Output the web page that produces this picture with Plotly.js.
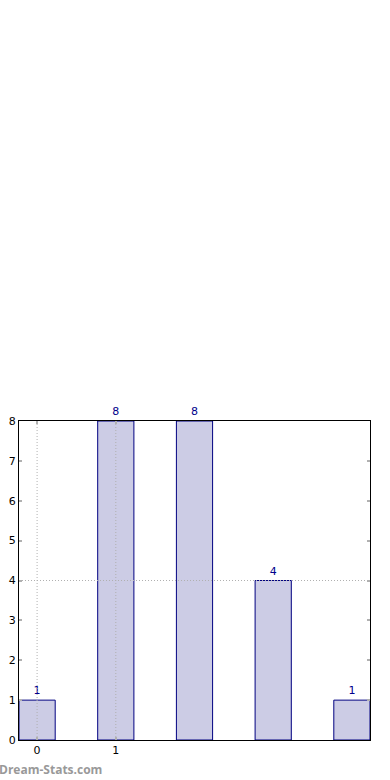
<!DOCTYPE html>
<html>
<head>
<meta charset="utf-8">
<script src="https://cdn.plot.ly/plotly-3.0.1.min.js"></script>
<style>
html,body{margin:0;padding:0;background:#fff;}
#chart{width:390px;height:780px;}
</style>
</head>
<body>
<div id="chart"></div>
<script>
var categories = [0, 1, 2, 3, 4];
var counts = [1, 8, 8, 4, 1];
var xTickVals = [0, 1];
var xTickText = ['0', '1'];
var yTickVals = [0, 1, 2, 3, 4, 5, 6, 7, 8];
var xGridVals = [0, 1];
var yGridVals = [4];

var FONT = 'DejaVu Sans, sans-serif';
var shapes = [];
xGridVals.forEach(function (v) {
  shapes.push({type: 'line', xref: 'x', yref: 'paper', x0: v, x1: v, y0: 0, y1: 1,
    layer: 'above', line: {color: '#b0b0b0', width: 1, dash: '1px,2px'}});
});
yGridVals.forEach(function (v) {
  shapes.push({type: 'line', xref: 'paper', yref: 'y', x0: 0, x1: 1, y0: v, y1: v,
    layer: 'above', line: {color: '#b0b0b0', width: 1, dash: '1px,2px'}});
});

var trace = {
  type: 'bar',
  x: categories,
  y: counts,
  width: 0.46,
  marker: {color: '#ccccE5', line: {color: '#000080', width: 1}},
  text: counts.map(String),
  textposition: 'outside',
  cliponaxis: false,
  textfont: {family: FONT, size: 11, color: '#00008B'},
  hoverinfo: 'none'
};

var layout = {
  width: 390, height: 780,
  margin: {l: 19, r: 20, t: 421, b: 40, pad: 0},
  paper_bgcolor: '#ffffff', plot_bgcolor: '#ffffff',
  showlegend: false,
  font: {family: FONT, size: 11, color: '#000'},
  xaxis: {
    range: [-0.23, 4.23], tickmode: 'array', tickvals: xTickVals, ticktext: xTickText,
    showgrid: false, zeroline: false, showline: true, linecolor: '#000', linewidth: 1,
    mirror: 'ticks', ticks: 'inside', ticklen: 3, tickcolor: '#b0b0b0', tickwidth: 2,
    tickfont: {family: FONT, size: 11, color: '#000'}, fixedrange: true
  },
  yaxis: {
    range: [0, 8], tickmode: 'array', tickvals: yTickVals,
    showgrid: false, zeroline: false, showline: true, linecolor: '#000', linewidth: 1,
    mirror: 'ticks', ticks: 'inside', ticklen: 3, tickcolor: '#b0b0b0', tickwidth: 2,
    tickfont: {family: FONT, size: 11, color: '#000'}, fixedrange: true
  },
  shapes: shapes,
  annotations: [{
    text: 'Dream-Stats.com', xref: 'paper', yref: 'paper', x: -0.064, y: -0.125,
    xanchor: 'left', yanchor: 'bottom', showarrow: false,
    font: {family: 'Open Sans, sans-serif', size: 12, color: '#999999', weight: 'bold'}
  }]
};

Plotly.newPlot('chart', [trace], layout, {displayModeBar: false, staticPlot: true});
</script>
</body>
</html>
